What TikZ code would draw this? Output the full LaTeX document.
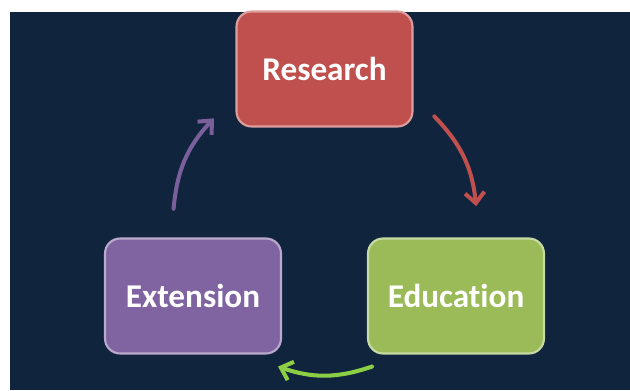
\documentclass[tikz,border=0pt]{standalone}
\usepackage{fontspec}
\setmainfont{Carlito}[RawFeature={-liga;-clig;-dlig;-calt;-rlig}]
\usetikzlibrary{arrows.meta}
\definecolor{navy}{HTML}{10243E}
\definecolor{resred}{HTML}{C0504D}
\definecolor{edugreen}{HTML}{9BBB59}
\definecolor{extpurple}{HTML}{8064A2}
\definecolor{arrowgreen}{HTML}{8CCF45}
\definecolor{arrowpurple}{HTML}{7B5F9B}

\begin{document}
\begin{tikzpicture}[x=0.02cm,y=0.02cm,
    box/.style={rounded corners=0.3cm,minimum width=3.52cm,minimum height=2.3cm,
        line width=1.2pt,text=white,font=\fontsize{18.9}{22}\selectfont\bfseries},
    cycle/.style={line width=2.3pt,line cap=round,
        -{Straight Barb[length=6pt,width=11pt,line width=2.3pt]},bend left=19}]
                \useasboundingbox (0,0) rectangle (630,390);
                \fill[navy] (10,0) rectangle (630,378);
                \node[box,fill=resred,draw=resred!55!white] (research) at (324.5,321) {Research};
                \node[box,fill=edugreen,draw=edugreen!55!white] (education) at (456,94) {Educat\kern0pt ion};
                \node[box,fill=extpurple,draw=extpurple!55!white] (extension) at (193,94) {Extension};
                \coordinate (hub) at (325,168);
                \coordinate (r1) at ([shift={(44:152)}]hub);
                \coordinate (r2) at ([shift={(6:152)}]hub);
                \coordinate (g1) at ([shift={(-72:152)}]hub);
                \coordinate (g2) at ([shift={(-108:152)}]hub);
                \coordinate (p1) at ([shift={(175:152)}]hub);
                \coordinate (p2) at ([shift={(137:152)}]hub);
                \draw[cycle,resred] (r1) to (r2);
                \draw[cycle,arrowgreen] (g1) to (g2);
                \draw[cycle,arrowpurple] (p1) to (p2);
            \end{tikzpicture}
\end{document}
